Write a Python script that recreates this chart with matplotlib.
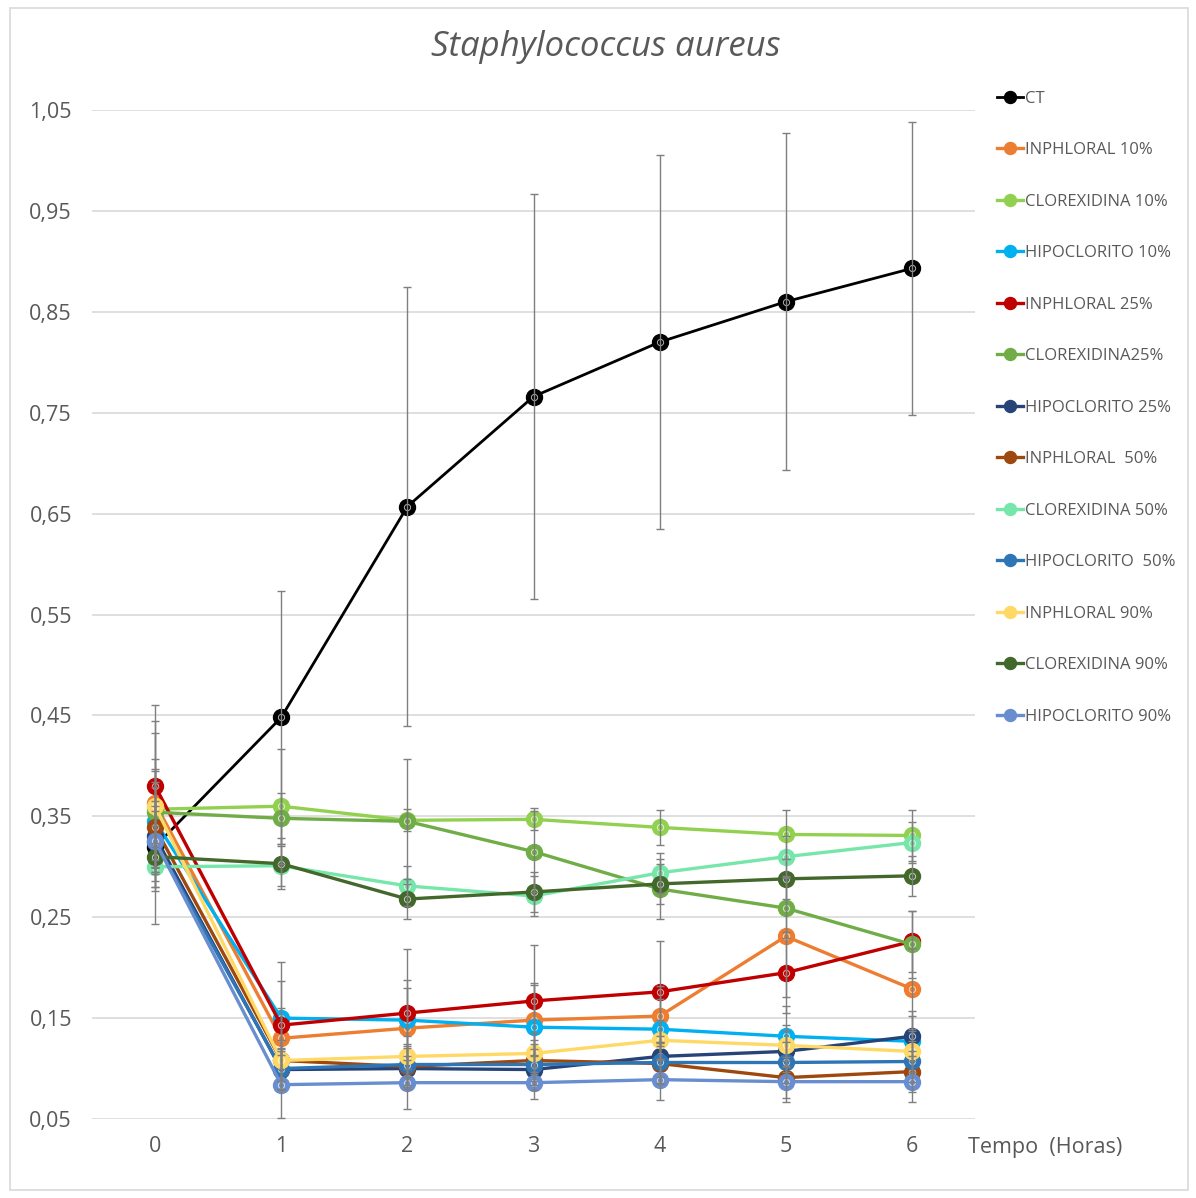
import matplotlib
matplotlib.use("Agg")
import matplotlib.pyplot as plt
from matplotlib.patches import Rectangle

plt.rcParams['font.family'] = ['Open Sans', 'DejaVu Sans']

hours = [0, 1, 2, 3, 4, 5, 6]
hour_labels = ["0", "1", "2", "3", "4", "5", "6"]
y_ticks = [0.05, 0.15, 0.25, 0.35, 0.45, 0.55, 0.65, 0.75, 0.85, 0.95, 1.05]

series_names = ["CT", "INPHLORAL 10%", "CLOREXIDINA 10%", "HIPOCLORITO 10%",
                "INPHLORAL 25%", "CLOREXIDINA25%", "HIPOCLORITO 25%",
                "INPHLORAL  50%", "CLOREXIDINA 50%", "HIPOCLORITO  50%",
                "INPHLORAL 90%", "CLOREXIDINA 90%", "HIPOCLORITO 90%"]

ct = [0.320, 0.448, 0.657, 0.766, 0.820, 0.860, 0.893]
inph10 = [0.363, 0.130, 0.140, 0.148, 0.152, 0.231, 0.179]
clor10 = [0.357, 0.360, 0.346, 0.347, 0.339, 0.332, 0.331]
hipo10 = [0.345, 0.150, 0.148, 0.141, 0.139, 0.132, 0.127]
inph25 = [0.380, 0.143, 0.155, 0.167, 0.176, 0.195, 0.226]
clor25 = [0.354, 0.348, 0.345, 0.315, 0.278, 0.259, 0.223]
hipo25 = [0.330, 0.099, 0.100, 0.099, 0.112, 0.117, 0.132]
inph50 = [0.339, 0.108, 0.102, 0.108, 0.105, 0.091, 0.097]
clor50 = [0.300, 0.301, 0.281, 0.271, 0.294, 0.310, 0.324]
hipo50 = [0.325, 0.100, 0.104, 0.104, 0.106, 0.106, 0.107]
inph90 = [0.360, 0.108, 0.112, 0.115, 0.128, 0.123, 0.117]
clor90 = [0.310, 0.303, 0.268, 0.275, 0.283, 0.288, 0.291]
hipo90 = [0.3255, 0.084, 0.086, 0.086, 0.089, 0.087, 0.087]

err_ct = [0.077, 0.125, 0.218, 0.201, 0.185, 0.167, 0.145]
err_inph10 = [0.070, 0.030, 0.040, 0.035, 0.030, 0.060, 0.040]
err_clor10 = [0.050, 0.057, 0.011, 0.011, 0.017, 0.024, 0.025]
err_hipo10 = [0.050, 0.037, 0.040, 0.044, 0.030, 0.030, 0.030]
err_inph25 = [0.080, 0.063, 0.063, 0.055, 0.050, 0.040, 0.030]
err_clor25 = [0.030, 0.025, 0.062, 0.040, 0.030, 0.030, 0.033]
err_hipo25 = [0.030, 0.020, 0.020, 0.020, 0.020, 0.020, 0.020]
err_inph50 = [0.040, 0.020, 0.020, 0.020, 0.020, 0.020, 0.020]
err_clor50 = [0.020, 0.020, 0.020, 0.020, 0.020, 0.020, 0.020]
err_hipo50 = [0.030, 0.020, 0.020, 0.020, 0.020, 0.020, 0.020]
err_inph90 = [0.084, 0.020, 0.020, 0.020, 0.020, 0.020, 0.020]
err_clor90 = [0.030, 0.025, 0.020, 0.020, 0.020, 0.020, 0.020]
err_hipo90 = [0.040, 0.033, 0.026, 0.016, 0.020, 0.020, 0.020]

values = [ct, inph10, clor10, hipo10, inph25, clor25, hipo25,
          inph50, clor50, hipo50, inph90, clor90, hipo90]
errors = [err_ct, err_inph10, err_clor10, err_hipo10, err_inph25, err_clor25, err_hipo25,
          err_inph50, err_clor50, err_hipo50, err_inph90, err_clor90, err_hipo90]
colors = ["#000000", "#ED7D31", "#92D050", "#00B0F0", "#C00000", "#70AD47", "#264478",
          "#9E480E", "#77E6AA", "#2E75B6", "#FFD966", "#43682B", "#698ED0"]

fig = plt.figure(figsize=(11.96, 11.98), dpi=100)
ax = fig.add_axes([92/1196, 1 - 1119/1198, (975-92)/1196, (1119-110)/1198])

for i, (name, vals, errs, col) in enumerate(zip(series_names, values, errors, colors)):
    lw = 2.0 if i == 0 else 2.4
    ax.plot(hours, vals, color=col, lw=lw, marker='o', ms=11.5, mfc=col, mec=col,
            label=name, zorder=3 + i)
    ax.plot(hours, vals, ls='none', marker='o', ms=4.5, mfc='none', mec='white',
            mew=0.7, alpha=0.7, zorder=3 + i)
    ax.errorbar(hours, vals, yerr=errs, fmt='none', ecolor='#7F7F7F', elinewidth=1.0,
                capsize=3, capthick=1.0, zorder=20)

ax.set_xlim(-0.5, 6.5)
ax.set_ylim(0.05, 1.05)
ax.set_xticks(hours)
ax.set_xticklabels(hour_labels)
ax.set_yticks(y_ticks)
ax.set_yticklabels([f"{v:.2f}".replace('.', ',') for v in y_ticks])
ax.tick_params(axis='both', length=0, labelsize=15.5, labelcolor='#595959')
ax.tick_params(axis='y', pad=14.4)
ax.tick_params(axis='x', pad=12)
ax.grid(axis='y', color='#D9D9D9', lw=1.2)
ax.set_axisbelow(True)
for s in ax.spines.values():
    s.set_visible(False)

fig.text(0.5067, 1 - 47/1198, "Staphylococcus aureus", ha='center', va='center',
         fontsize=25, style='italic', color='#595959')
fig.text(1045/1196, 1 - 1147/1198, "Tempo  (Horas)", ha='center', va='center',
         fontsize=15.5, color='#595959')

handles, labels = ax.get_legend_handles_labels()
leg = fig.legend(handles, labels, loc='upper left', bbox_to_anchor=(990/1196, 1 - 84/1198),
                 frameon=False, fontsize=12, labelcolor='#595959', handlelength=1.6,
                 handletextpad=0.1, labelspacing=2.13, markerscale=0.75, borderaxespad=0)

fig.patches.append(Rectangle((10/1196, 8/1198), 1178/1196, 1182/1198, transform=fig.transFigure,
                             fill=False, edgecolor='#D9D9D9', lw=1.2))

fig.savefig("out.png", dpi=100)
